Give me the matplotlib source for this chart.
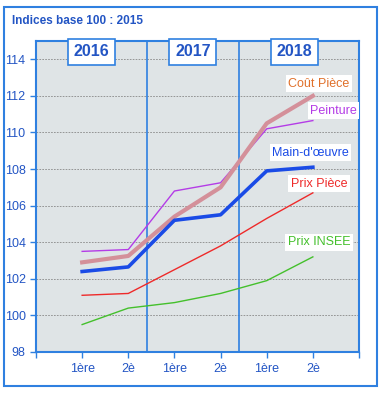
import matplotlib.pyplot as plt
from matplotlib.patches import Rectangle

plt.rcParams['font.family'] = ['Liberation Sans', 'DejaVu Sans']

# data
periods = ['1ère', '2è', '1ère', '2è', '1ère', '2è']
years = ['2016', '2017', '2018']
cout_piece = [102.9, 103.25, 105.4, 107.0, 110.5, 112.0]
peinture = [103.5, 103.6, 106.8, 107.25, 110.2, 110.65]
main_oeuvre = [102.4, 102.65, 105.2, 105.5, 107.9, 108.1]
prix_piece = [101.1, 101.2, 102.5, 103.8, 105.3, 106.7]
prix_insee = [99.5, 100.4, 100.7, 101.2, 101.9, 103.2]

x = list(range(len(periods)))

fig = plt.figure(figsize=(3.8, 3.94), dpi=100)
fig.patches.append(Rectangle((4/380, 1-386/394), 373/380, 379/394, transform=fig.transFigure,
                             fill=False, edgecolor='#2f80e0', lw=1.5))
fig.text(12/380, 1-21/394, 'Indices base 100 : 2015', color='#2355c4', fontsize=8.5,
         fontweight='bold', va='center')

ax = fig.add_axes([36/380, 1-352/394, 323/380, 311/394])
ax.set_facecolor('#dfe4e6')
ax.set_xlim(-1, 6)
ax.set_ylim(98, 115)
ax.set_yticks(range(98, 115, 2))
ax.set_xticks(x)
ax.set_xticklabels(periods)
ax.set_xticks([-1, 6], minor=True)
ax.tick_params(colors='#2f80e0', labelcolor='#2355c4', labelsize=9, length=4, width=1)
ax.tick_params(axis='x', pad=4)
ax.tick_params(which='minor', colors='#2f80e0', length=4, width=1)
for s in ax.spines.values():
    s.set_color('#2f80e0')
    s.set_linewidth(1.5)
ax.grid(axis='y', color='#888888', ls=(0, (2, 1.5)), lw=0.6)
ax.set_axisbelow(True)

for sx in [1.41, 3.39]:
    ax.axvline(sx, color='#2f80e0', lw=1.2)

# year boxes
for xc, yr in zip([0.2, 2.4, 4.6], years):
    ax.text(xc, 114.4, yr, ha='center', va='center', color='#2355c4', fontsize=11.5,
            fontweight='bold', bbox=dict(boxstyle='square,pad=0.35', fc='white', ec='#2f80e0', lw=1.2))

ax.plot(x, prix_insee, color='#44c02c', lw=1.0)
ax.plot(x, prix_piece, color='#ee2a2a', lw=1.0)
ax.plot(x, peinture, color='#b43ce6', lw=1.0)
ax.plot(x, cout_piece, color='#d4909a', lw=3.0)
ax.plot(x, main_oeuvre, color='#1a4be6', lw=2.6)

lab = dict(fontsize=9, va='center', ha='center',
           bbox=dict(boxstyle='square,pad=0.2', fc='white', ec='none'))
ax.text(5.13, 112.65, 'Coût Pièce', color='#e0702a', **lab)
ax.text(5.45, 111.2, 'Peinture', color='#b43ce6', **lab)
ax.text(4.95, 108.9, "Main-d'œuvre", color='#1a4be6', **lab)
ax.text(5.13, 107.2, 'Prix Pièce', color='#ee2a2a', **lab)
ax.text(5.13, 104.0, 'Prix INSEE', color='#44c02c', **lab)

fig.savefig('out.png', dpi=100)
